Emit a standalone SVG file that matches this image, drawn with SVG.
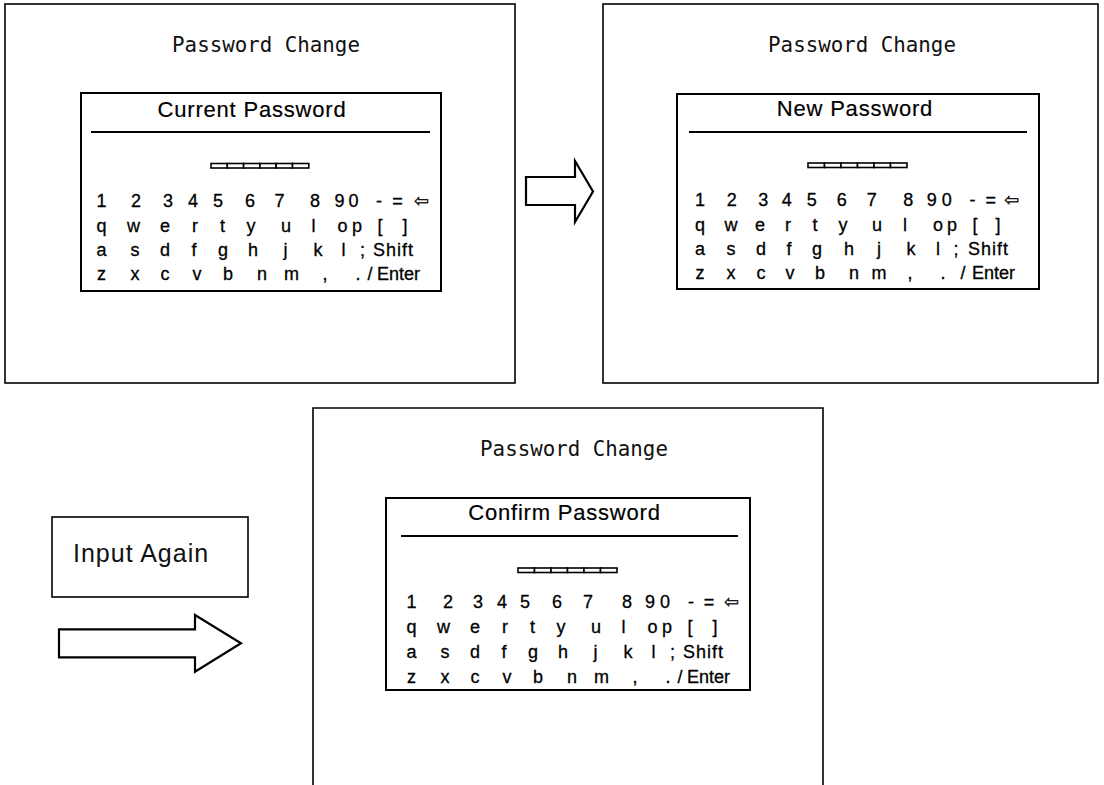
<svg xmlns="http://www.w3.org/2000/svg" width="1104" height="785" viewBox="0 0 1104 785">
<style>
.panel{fill:#fff;stroke:#000;stroke-width:1.6}
.inner{fill:#fff;stroke:#000;stroke-width:2}
.rule{stroke:#000;stroke-width:2}
.pw{fill:#fff;stroke:#000;stroke-width:1.6}
.head{font-family:"DejaVu Sans Mono",monospace;font-size:20.8px;fill:#111;text-anchor:middle}
.sub{font-family:"Liberation Sans",Arial,sans-serif;font-size:22px;letter-spacing:0.8px;fill:#000;stroke:#000;stroke-width:0.2;text-anchor:middle}
.key{font-family:"Liberation Sans","DejaVu Sans",Arial,sans-serif;font-size:18px;fill:#000;stroke:#000;stroke-width:0.3;text-anchor:middle}
.word{font-family:"Liberation Sans",Arial,sans-serif;font-size:18px;fill:#000;stroke:#000;stroke-width:0.3;text-anchor:start}
.arrow{fill:#fff;stroke:#000;stroke-width:2.2;stroke-linejoin:miter}
.label{font-family:"Liberation Sans",Arial,sans-serif;font-size:25px;letter-spacing:1px;fill:#111}
</style>
<rect width="1104" height="785" fill="#fff"/>

<g id="panel-current">
<rect class="panel" x="5" y="4" width="510" height="379"/>
<text class="head" x="266" y="52">Password Change</text>
<rect class="inner" x="81" y="93" width="360" height="198"/>
<text class="sub" x="252" y="117">Current Password</text>
<line class="rule" x1="91" y1="132" x2="430" y2="132"/>
<g>
<rect class="pw" x="211" y="163.5" width="16.3" height="4.5"/>
<rect class="pw" x="227.3" y="163.5" width="16.3" height="4.5"/>
<rect class="pw" x="243.6" y="163.5" width="16.3" height="4.5"/>
<rect class="pw" x="259.9" y="163.5" width="16.3" height="4.5"/>
<rect class="pw" x="276.2" y="163.5" width="16.3" height="4.5"/>
<rect class="pw" x="292.5" y="163.5" width="16.3" height="4.5"/>
</g>
<text class="key" x="101.5 136 168 193 218 250 279.5 315 339.5 353.5 379 397.5 421.5" y="207">1234567890-=⇦</text>
<text class="key" x="101.5 133.5 165 195 222.5 251 286 313.5 342.5 357 380 405" y="231.5">qwertyulop[]</text>
<text class="key" x="101.5 135 165 194 223 253 285.5 318 343.5 362.5" y="256">asdfghjkl;</text>
<text class="word" x="373" y="256" letter-spacing="1">Shift</text>
<text class="key" x="101.5 135 165 197 228 262 291.5 325 358 370" y="280">zxcvbnm,./</text>
<text class="word" x="377" y="280">Enter</text>
</g>

<g id="panel-new">
<rect class="panel" x="603" y="4" width="495" height="379"/>
<text class="head" x="862" y="52">Password Change</text>
<rect class="inner" x="677" y="94" width="362" height="195"/>
<text class="sub" x="855" y="116">New Password</text>
<line class="rule" x1="689" y1="132" x2="1027" y2="132"/>
<g>
<rect class="pw" x="808" y="163" width="16.5" height="4.5"/>
<rect class="pw" x="824.5" y="163" width="16.5" height="4.5"/>
<rect class="pw" x="841" y="163" width="16.5" height="4.5"/>
<rect class="pw" x="857.5" y="163" width="16.5" height="4.5"/>
<rect class="pw" x="874" y="163" width="16.5" height="4.5"/>
<rect class="pw" x="890.5" y="163" width="16.5" height="4.5"/>
</g>
<text class="key" x="700 731.7 763.3 786.7 811.7 841.7 871.7 908.3 931.7 946.7 972.5 990.8 1011.7" y="206">1234567890-=⇦</text>
<text class="key" x="700 731 760 788 815 843 877 905 938 952 975 998" y="230.7">qwertyulop[]</text>
<text class="key" x="700 731 761 789 817 849 879 911 938 956" y="255">asdfghjkl;</text>
<text class="word" x="968" y="255" letter-spacing="1">Shift</text>
<text class="key" x="700 731 761 790 820 854 879 910 943 963" y="279.3">zxcvbnm,./</text>
<text class="word" x="972" y="279.3">Enter</text>
</g>

<g id="panel-confirm">
<path class="panel" d="M313,790 L313,408 L823,408 L823,790"/>
<text class="head" x="574" y="456">Password Change</text>
<rect class="inner" x="386" y="498" width="364" height="192"/>
<text class="sub" x="564.5" y="520">Confirm Password</text>
<line class="rule" x1="401" y1="536" x2="738" y2="536"/>
<g>
<rect class="pw" x="518" y="568" width="16.5" height="4.5"/>
<rect class="pw" x="534.5" y="568" width="16.5" height="4.5"/>
<rect class="pw" x="551" y="568" width="16.5" height="4.5"/>
<rect class="pw" x="567.5" y="568" width="16.5" height="4.5"/>
<rect class="pw" x="584" y="568" width="16.5" height="4.5"/>
<rect class="pw" x="600.5" y="568" width="16.5" height="4.5"/>
</g>
<text class="key" x="411.5 448 478 502 525 557 588 627 650 665 691 709 731.5" y="608">1234567890-=⇦</text>
<text class="key" x="411.5 443.5 475 505 532.5 561 596 623.5 652.5 667 690 715" y="633">qwertyulop[]</text>
<text class="key" x="411.5 445 475 504 533 563 595.5 628 653.5 672.5" y="658">asdfghjkl;</text>
<text class="word" x="683" y="658" letter-spacing="1">Shift</text>
<text class="key" x="411.5 445 475 507 538 572 601.5 635 668 680" y="683">zxcvbnm,./</text>
<text class="word" x="687" y="683">Enter</text>
</g>

<g id="input-again">
<rect class="panel" x="52" y="517" width="196" height="80"/>
<text class="label" x="73" y="562">Input Again</text>
</g>

<g id="connectors">
<polygon class="arrow" points="526,177 575,177 575,161 593,191.5 575,222 575,205 526,205"/>
<polygon class="arrow" points="59,629.3 195,629.3 195,615 241,643.3 195,671.7 195,657.3 59,657.3"/>
</g>
</svg>
